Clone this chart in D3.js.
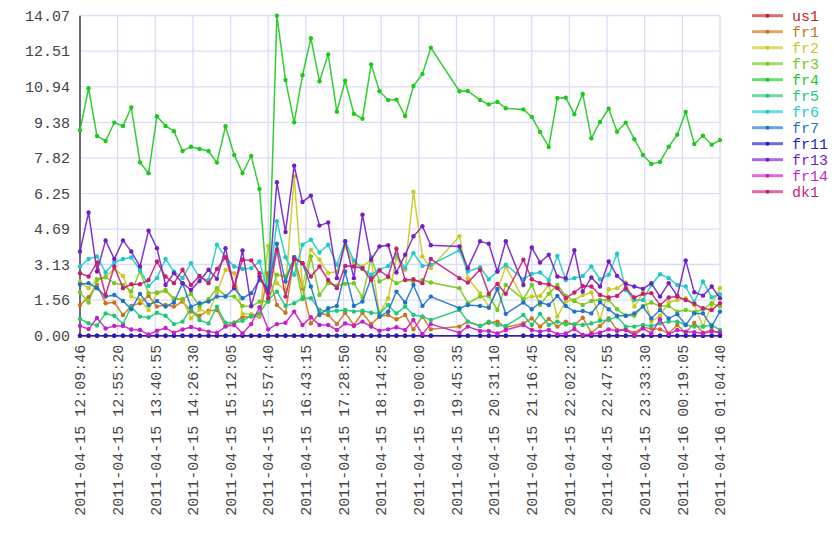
<!DOCTYPE html>
<html>
<head>
<meta charset="utf-8">
<script src="https://cdn.jsdelivr.net/npm/d3@7"></script>
<style>
  body { margin: 0; background: #fff; }
  text { font-family: "Liberation Mono", "DejaVu Sans Mono", monospace; }
</style>
</head>
<body>
<div id="chart-area"></div>
<script>
// sample times (same for every host)
var times = [
"2011-04-15 12:09:46","2011-04-15 12:20:10","2011-04-15 12:30:20","2011-04-15 12:40:45","2011-04-15 12:51:17","2011-04-15 13:01:48","2011-04-15 13:11:51","2011-04-15 13:22:23","2011-04-15 13:32:47","2011-04-15 13:42:57",
"2011-04-15 13:53:21","2011-04-15 14:03:31","2011-04-15 14:13:56","2011-04-15 14:24:06","2011-04-15 14:34:30","2011-04-15 14:45:24","2011-04-15 14:55:34","2011-04-15 15:05:58","2011-04-15 15:16:30","2011-04-15 15:26:32",
"2011-04-15 15:37:04","2011-04-15 15:47:07","2011-04-15 15:57:38","2011-04-15 16:08:10","2011-04-15 16:18:35","2011-04-15 16:29:06","2011-04-15 16:39:09","2011-04-15 16:49:19","2011-04-15 16:59:44","2011-04-15 17:10:15",
"2011-04-15 17:20:47","2011-04-15 17:30:50","2011-04-15 17:41:21","2011-04-15 17:51:46","2011-04-15 18:02:17","2011-04-15 18:12:20","2011-04-15 18:22:52","2011-04-15 18:32:54","2011-04-15 18:43:26","2011-04-15 18:53:29",
"2011-04-15 19:04:22","2011-04-15 19:14:32","2011-04-15 19:49:09","2011-04-15 19:59:19","2011-04-15 20:14:12","2011-04-15 20:24:44","2011-04-15 20:35:08","2011-04-15 20:45:18","2011-04-15 21:06:36","2011-04-15 21:16:46",
"2011-04-15 21:26:48","2011-04-15 21:37:20","2011-04-15 21:47:45","2011-04-15 21:57:55","2011-04-15 22:08:19","2011-04-15 22:18:29","2011-04-15 22:28:53","2011-04-15 22:39:25","2011-04-15 22:49:57","2011-04-15 23:00:00",
"2011-04-15 23:10:31","2011-04-15 23:20:56","2011-04-15 23:31:27","2011-04-15 23:41:30","2011-04-15 23:52:02","2011-04-16 00:02:33","2011-04-16 00:12:58","2011-04-16 00:23:08","2011-04-16 00:33:32","2011-04-16 00:44:04",
"2011-04-16 00:54:36","2011-04-16 01:04:40"];

var hosts = ["us1","fr1","fr2","fr3","fr4","fr5","fr6","fr7","fr11","fr13","fr14","dk1"];

var us1 = [0,0,0,0,0,0,0,0,0,0, 0,0,0,0,0,0,0,0,0,0, 0,0,0,0,0,0,0,0,0,0, 0,0,0,0,0,0,0,0,0,0,
  0,0,0,0,0,0,0,0,0,0, 0,0,0,0,0,0,0,0,0,0, 0,0,0,0,0,0,0,0,0,0, 0,0];
var fr1 = [1.35,1.69,2.23,1.43,1.46,0.91,1.31,1.43,1.75,1.28, 1.35,1.28,1.50,1.06,0.88,1.10,1.13,0.43,0.57,0.81,
  0.84,0.84,2.75,1.35,1.01,3.45,2.09,0.54,0.98,0.91, 0.51,1.01,0.47,1.01,0.51,0.84,0.91,0.72,0.91,0.28,
  0.84,0.28,0.40,0.62,0.43,0.57,0.62,0.37,0.54,0.76, 0.40,0.74,0.40,0.62,0.47,0.79,0.13,0.43,0.76,0.25,
  0.28,0.13,0.37,0.31,0.28,0.10,0.47,0.13,0.57,0.13, 0.25,0.10];
var fr2 = [2.38,2.09,2.50,2.60,2.93,2.63,1.72,1.57,1.13,1.87, 1.95,1.65,1.60,0.76,1.15,1.00,1.90,2.90,2.75,0.95,
  0.95,0.90,3.95,2.30,2.00,7.00,2.16,3.78,3.34,2.75, 2.82,3.92,3.19,3.04,3.34,0.98,1.65,3.41,2.90,6.32,
  3.48,2.97,4.37,2.53,1.87,1.28,2.01,3.04,1.60,1.72, 1.75,2.23,0.84,1.50,1.57,1.79,1.90,0.69,2.04,2.09,
  2.34,1.28,1.90,0.62,0.88,1.46,1.57,1.65,1.35,0.40, 1.35,2.09];
var fr3 = [1.90,1.46,2.45,2.57,2.31,2.23,1.94,2.82,1.87,1.90, 2.01,1.60,1.60,1.84,1.30,1.60,2.09,1.75,1.72,1.31,
  1.28,1.50,1.50,2.68,2.60,3.34,1.60,3.48,1.79,2.31, 2.20,2.28,2.31,1.68,3.45,2.38,2.57,2.31,2.45,2.38,
  2.45,2.34,2.09,1.43,1.72,1.75,1.13,2.23,1.60,2.23, 1.35,1.84,2.23,1.75,1.52,1.35,1.53,1.57,1.57,1.16,
  0.88,0.88,1.31,1.46,1.31,1.31,1.06,1.13,1.03,1.16, 1.43,1.28];
var fr4 = [9.03,10.88,8.78,8.56,9.37,9.22,10.04,7.62,7.14,9.65, 9.22,8.99,8.12,8.31,8.21,8.12,7.61,9.21,7.95,7.15,
  7.90,6.45,1.50,14.07,11.24,9.38,11.45,13.08,11.19,12.37, 9.85,11.21,9.76,9.54,11.93,10.75,10.36,10.38,9.66,10.98,
  11.51,12.66,10.75,10.76,10.36,10.17,10.28,10.00,9.95,9.62, 8.96,8.30,10.45,10.46,9.74,10.63,8.68,9.40,9.98,8.97,
  9.37,8.64,7.95,7.55,7.64,8.31,8.84,9.84,8.43,8.79, 8.40,8.60];
var fr5 = [0.74,0.55,0.45,0.98,0.88,0.52,1.28,0.84,0.80,1.01, 0.88,0.51,0.62,1.21,0.69,0.54,1.28,0.57,0.57,0.66,
  0.87,0.98,1.57,1.94,1.31,1.43,1.65,1.65,1.13,1.06, 1.10,1.13,1.06,1.10,1.01,0.98,1.35,0.98,1.28,0.91,
  0.84,0.69,1.13,0.62,0.43,0.62,0.47,0.43,0.91,0.47, 0.96,0.47,0.62,0.50,0.51,0.47,0.54,0.66,0.69,0.84,
  0.40,0.40,0.47,0.43,0.54,0.62,0.62,0.47,0.40,0.40, 0.47,0.25];
var fr6 = [3.04,3.37,3.48,2.78,3.22,3.37,3.44,2.90,2.19,2.53, 3.37,2.82,2.53,3.19,2.55,2.45,4.00,3.45,3.04,2.93,
  2.97,3.26,1.87,5.03,3.45,2.68,4.00,4.22,3.66,4.00, 3.12,4.15,3.31,2.93,2.68,2.90,3.07,3.56,2.97,3.63,
  3.07,3.12,3.75,2.82,3.01,2.48,2.82,3.12,2.48,2.72, 2.78,2.45,3.51,2.45,2.53,2.63,3.04,2.48,2.68,3.60,
  2.01,1.57,1.57,2.23,2.70,2.53,2.23,2.16,1.46,2.38, 1.69,1.82];
var fr7 = [2.26,2.31,2.09,1.72,1.79,1.53,1.16,1.84,1.35,1.53, 1.28,1.46,2.31,1.28,1.43,1.50,1.72,1.72,2.09,1.65,
  1.87,2.45,2.09,4.04,2.38,3.45,3.19,2.16,0.91,1.21, 1.31,2.82,1.31,1.50,2.53,0.84,1.06,1.94,1.46,2.23,
  1.31,1.72,1.21,1.35,1.31,1.23,2.06,0.96,1.46,1.16, 1.46,1.35,1.75,1.31,1.06,1.09,0.98,1.47,1.16,0.88,
  0.88,0.98,1.28,0.76,1.13,0.76,0.94,0.47,0.98,0.98, 0.40,1.06];
var fr11 = [0,0,0,0,0,0,0,0,0,0, 0,0,0,0,0,0,0,0,0,0, 0,0,0,0,0,0,0,0,0,0, 0,0,0,0,0,0,0,0,0,0,
  0,0,0,0,0,0,0,0,0,0, 0,0,0,0,0,0,0,0,0,0, 0,0,0,0,0,0,0,0,0,0, 0,0];
var fr13 = [3.70,5.42,2.82,4.19,3.37,4.19,3.70,3.04,4.62,3.85, 2.23,2.75,2.31,2.01,2.40,2.90,2.50,3.85,2.09,3.75,
  1.31,2.60,1.90,6.75,4.56,7.47,5.88,6.16,4.84,4.98, 2.53,4.15,2.53,5.32,3.34,3.92,3.98,2.78,3.56,4.37,
  4.81,3.98,3.92,2.97,4.15,4.04,2.82,4.15,2.23,3.88, 3.22,3.56,2.60,2.53,3.76,1.94,2.56,2.16,3.26,2.63,
  2.28,2.16,2.06,2.31,1.72,2.31,1.75,3.31,1.91,1.76, 2.16,1.65];
var fr14 = [0.43,0.29,0.78,0.32,0.43,0.43,0.27,0.25,0.05,0.22, 0.34,0.13,0.27,0.38,0.28,0.18,0.13,0.40,0.47,0.10,
  0.51,1.25,0.28,0.51,0.57,1.06,0.47,0.81,0.47,0.47, 0.25,0.54,0.43,0.62,0.40,0.22,0.28,0.37,0.25,0.69,
  0.07,0.51,0.13,0.40,0.21,0.21,0.10,0.25,0.47,0.25, 0.18,0.25,0.07,0.10,0.30,0.03,0.07,0.13,0.28,0.21,
  0.25,0.03,0.32,0.10,0.72,0.07,0.25,0.18,0.15,0.10, 0.18,0.15];
var dk1 = [2.75,2.60,3.22,1.79,3.04,2.09,2.26,2.26,2.45,3.26, 2.60,2.31,2.90,2.23,2.63,2.31,2.93,3.45,2.19,3.34,
  3.31,2.75,1.65,3.78,1.72,3.37,3.19,2.60,3.04,2.45, 2.09,3.07,3.04,2.97,2.45,2.87,2.60,3.82,2.45,2.48,
  2.31,3.37,2.53,2.34,2.90,1.84,2.28,1.84,3.34,2.48, 2.31,2.26,2.09,1.65,1.90,2.19,2.16,1.79,1.68,1.75,
  2.09,1.68,1.84,1.87,1.35,1.68,1.72,1.57,1.40,1.21, 1.13,1.43];

var hostValues = [us1, fr1, fr2, fr3, fr4, fr5, fr6, fr7, fr11, fr13, fr14, dk1];

var yMax = 14.07;
var yTickLabels = ["0.00","1.56","3.13","4.69","6.25","7.82","9.38","10.94","12.51","14.07"];
var xTickLabels = [
"2011-04-15 12:09:46","2011-04-15 12:55:20","2011-04-15 13:40:55","2011-04-15 14:26:30","2011-04-15 15:12:05","2011-04-15 15:57:40",
"2011-04-15 16:43:15","2011-04-15 17:28:50","2011-04-15 18:14:25","2011-04-15 19:00:00","2011-04-15 19:45:35","2011-04-15 20:31:10",
"2011-04-15 21:16:45","2011-04-15 22:02:20","2011-04-15 22:47:55","2011-04-15 23:33:30","2011-04-16 00:19:05","2011-04-16 01:04:40"];

var W = 840, H = 560;
var plot = { left: 80, right: 720, top: 15.7, bottom: 335.7 };

var parseTime = d3.timeParse("%Y-%m-%d %H:%M:%S");

var svg = d3.select("#chart-area").append("svg")
    .attr("width", W)
    .attr("height", H);

var x = d3.scaleTime()
    .domain([parseTime(times[0]), parseTime(times[times.length - 1])])
    .range([plot.left, plot.right]);
var y = d3.scaleLinear()
    .domain([0, yMax])
    .range([plot.bottom, plot.top]);

var color = function(i) { return d3.hsl(i * 30, 0.75, 0.45).toString(); };

// grid
var grid = svg.append("g").attr("class", "grid");
grid.selectAll(".hgrid").data(yTickLabels).enter().append("line")
    .attr("x1", plot.left).attr("x2", plot.right)
    .attr("y1", d => y(+d)).attr("y2", d => y(+d))
    .attr("stroke", "#dcdcf8").attr("stroke-width", 1.3);
grid.selectAll(".vgrid").data(xTickLabels).enter().append("line")
    .attr("x1", d => x(parseTime(d))).attr("x2", d => x(parseTime(d)))
    .attr("y1", plot.top).attr("y2", plot.bottom)
    .attr("stroke", "#dcdcf8").attr("stroke-width", 1.3);

// y labels
svg.append("g").selectAll("text").data(yTickLabels).enter().append("text")
    .attr("x", plot.left - 10)
    .attr("y", d => y(+d))
    .attr("dy", "0.35em")
    .attr("text-anchor", "end")
    .attr("font-size", "15px")
    .attr("fill", "#444")
    .text(d => d);

// x labels, rotated
svg.append("g").selectAll("text").data(xTickLabels).enter().append("text")
    .attr("transform", d => "translate(" + x(parseTime(d)) + "," + (plot.bottom + 9) + ") rotate(-90)")
    .attr("dy", "0.35em")
    .attr("text-anchor", "end")
    .attr("font-size", "15px")
    .attr("fill", "#444")
    .text(d => d);

// left axis line
svg.append("line")
    .attr("x1", plot.left).attr("x2", plot.left)
    .attr("y1", plot.top).attr("y2", plot.bottom + 1)
    .attr("stroke", "#6a6a72").attr("stroke-width", 2);

// series
var line = d3.line()
    .x(d => x(d.date))
    .y(d => y(d.value));

hosts.forEach(function(h, i) {
    var pts = times.map((t, k) => ({ date: parseTime(t), value: hostValues[i][k] }));
    var g = svg.append("g").attr("class", "series " + h);
    g.append("path")
        .attr("d", line(pts))
        .attr("fill", "none")
        .attr("stroke", color(i))
        .attr("stroke-width", 1.5)
        .attr("stroke-opacity", 0.9);
    g.selectAll("circle").data(pts).enter().append("circle")
        .attr("cx", d => x(d.date))
        .attr("cy", d => y(d.value))
        .attr("r", 2.2)
        .attr("fill", color(i));
});

// legend
var legend = svg.append("g").attr("class", "legend");
hosts.forEach(function(h, i) {
    var ly = 15.7 + i * 16;
    legend.append("line")
        .attr("x1", 752).attr("x2", 783)
        .attr("y1", ly).attr("y2", ly)
        .attr("stroke", color(i))
        .attr("stroke-opacity", 0.65)
        .attr("stroke-width", 3);
    legend.append("circle")
        .attr("cx", 767.5).attr("cy", ly).attr("r", 2)
        .attr("fill", color(i));
    legend.append("text")
        .attr("x", 792).attr("y", ly)
        .attr("dy", "0.35em")
        .attr("font-size", "15px")
        .attr("fill", color(i))
        .text(h);
});
</script>
</body>
</html>
